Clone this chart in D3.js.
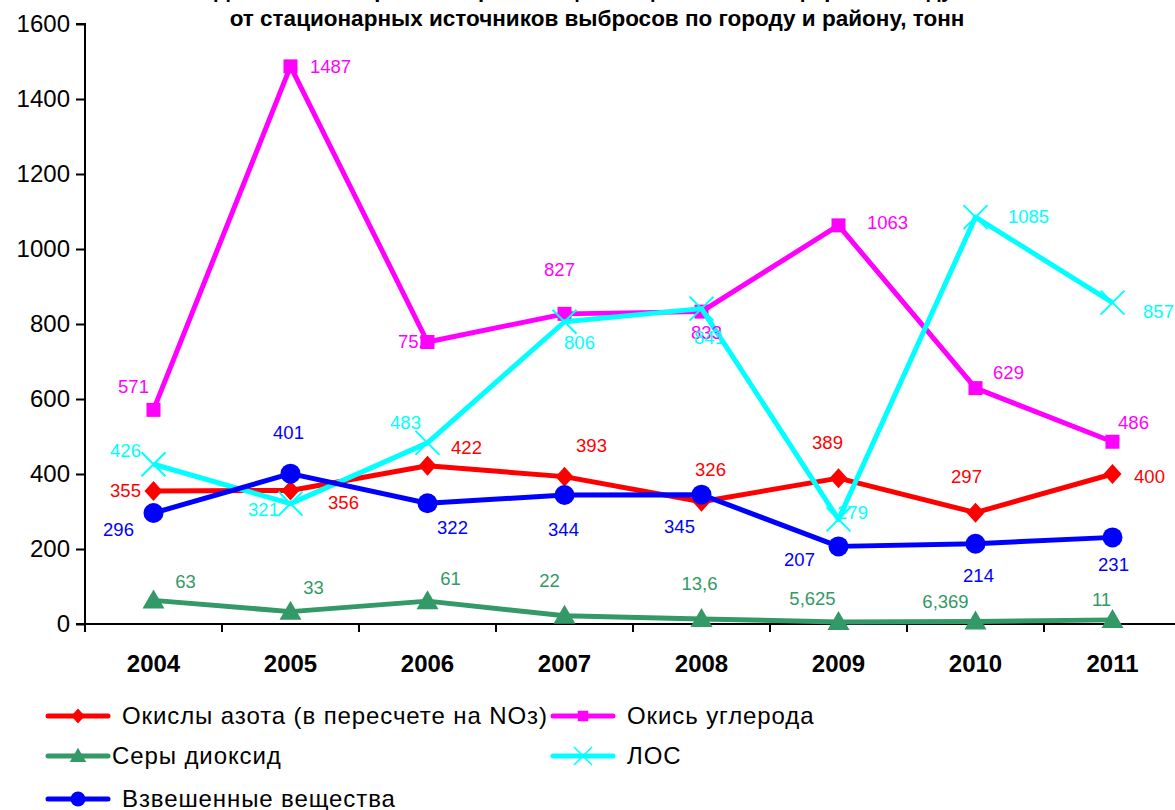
<!DOCTYPE html>
<html>
<head>
<meta charset="utf-8">
<script src="https://cdn.jsdelivr.net/npm/d3@7"></script>
<style>
  body { margin: 0; background: #fff; }
  text { font-family: "Liberation Sans", Arial, sans-serif; }
</style>
</head>
<body>
<div id="chart"></div>
<script>
// data
const years = ['2004', '2005', '2006', '2007', '2008', '2009', '2010', '2011']
const yTicks = [0, 200, 400, 600, 800, 1000, 1200, 1400, 1600]

const noxValues = [355, 356, 422, 393, 326, 389, 297, 400]
const coValues = [571, 1487, 752, 827, 833, 1063, 629, 486]
const so2Values = [63, 33, 61, 22, 13.6, 5.625, 6.369, 11]
const locValues = [426, 321, 483, 806, 841, 279, 1085, 857]
const dustValues = [296, 401, 322, 344, 345, 207, 214, 231]

const noxLabels = ['355', '356', '422', '393', '326', '389', '297', '400']
const coLabels = ['571', '1487', '752', '827', '833', '1063', '629', '486']
const so2Labels = ['63', '33', '61', '22', '13,6', '5,625', '6,369', '11']
const locLabels = ['426', '321', '483', '806', '841', '279', '1085', '857']
const dustLabels = ['296', '401', '322', '344', '345', '207', '214', '231']

// label placement (excel style manual offsets, px)
const noxOff = [[-28, 0], [53, 12], [39, -18], [27, -31], [9, -32], [-11, -36], [-9, -36], [37, 3]]
const coOff = [[-20, -23], [40, 0], [-14, 0], [-5, -44], [5, 21], [49, -3], [33, -16], [21, -19]]
const so2Off = [[32, -19], [23, -24], [23, -23], [-15, -35], [-2, -35], [-26, -23], [-30, -20], [-11, -20]]
const locOff = [[-28, -14], [-27, 6], [-22, -20], [15, 21], [8, 29], [14, -7], [53, -1], [46, 9]]
const dustOff = [[-35, 17], [-2, -41], [25, 24], [-1, 35], [-22, 32], [-39, 13], [3, 32], [1, 27]]

const series = [
  { name: 'Окислы азота (в пересчете на NOз)', values: noxValues, labels: noxLabels, off: noxOff, color: '#ff0000', marker: 'diamond' },
  { name: 'Окись углерода', values: coValues, labels: coLabels, off: coOff, color: '#ff00ff', marker: 'square' },
  { name: 'Серы диоксид', values: so2Values, labels: so2Labels, off: so2Off, color: '#339966', marker: 'triangle' },
  { name: 'ЛОС', values: locValues, labels: locLabels, off: locOff, color: '#00ffff', marker: 'cross' },
  { name: 'Взвешенные вещества', values: dustValues, labels: dustLabels, off: dustOff, color: '#0000ff', marker: 'circle' }
]

const width = 1175
const height = 810
const left = 85
const bandW = 137

const svg = d3.select('#chart').append('svg')
  .attr('width', width).attr('height', height)

const x = d3.scaleBand().domain(years).range([left, left + bandW * years.length])
const y = d3.scaleLinear().domain([0, 1600]).range([624, 24])

// title (first line is cut at the top of the picture)
svg.append('text')
  .attr('x', 590).attr('y', -3)
  .attr('text-anchor', 'middle')
  .style('font-size', '22px').style('font-weight', 'bold')
  .text('Динамика выбросов загрязняющих веществ в атмосферный воздух')
svg.append('text')
  .attr('x', 597).attr('y', 26)
  .attr('text-anchor', 'middle')
  .style('font-size', '22.5px').style('font-weight', 'bold')
  .text('от стационарных источников выбросов по городу и району, тонн')

// axes
const yAxis = svg.append('g').attr('transform', `translate(${left},0)`)
  .call(d3.axisLeft(y).tickValues(yTicks).tickSize(9).tickPadding(6).tickFormat(d3.format('d')))
yAxis.select('.domain').attr('stroke', '#000').attr('stroke-width', 2).attr('d', `M-9,${y(1600)}H0V${y(0)}`)
yAxis.selectAll('.tick line').attr('stroke-width', 2)
yAxis.selectAll('.tick text').style('font-size', '24px').attr('fill', '#000')

const xAxis = svg.append('g').attr('transform', `translate(0,${y(0)})`)
xAxis.append('line')
  .attr('x1', left - 9).attr('x2', width)
  .attr('stroke', '#000').attr('stroke-width', 2)
xAxis.selectAll('.xtick').data(years).enter().append('line')
  .attr('x1', d => x(d)).attr('x2', d => x(d))
  .attr('y1', 0).attr('y2', 8)
  .attr('stroke', '#000').attr('stroke-width', 2)
xAxis.selectAll('.xlab').data(years).enter().append('text')
  .attr('x', d => x(d) + x.bandwidth() / 2)
  .attr('y', 48)
  .attr('text-anchor', 'middle')
  .style('font-size', '24px').style('font-weight', 'bold')
  .text(d => d)

const line = d3.line()
  .x((d, i) => x(years[i]) + x.bandwidth() / 2)
  .y(d => y(d))

function drawMarker (g, type, color) {
  if (type === 'diamond') {
    g.append('path').attr('d', 'M0,-10L9,0L0,10L-9,0Z').attr('fill', color)
  } else if (type === 'square') {
    g.append('rect').attr('x', -7).attr('y', -7).attr('width', 14).attr('height', 14).attr('fill', color)
  } else if (type === 'triangle') {
    g.append('path').attr('d', 'M0,-11L11,8L-11,8Z').attr('fill', color)
  } else if (type === 'cross') {
    g.append('path').attr('d', 'M-12,-12L12,12M-12,12L12,-12').attr('stroke', color).attr('stroke-width', 2)
  } else if (type === 'circle') {
    g.append('circle').attr('r', 10).attr('fill', color)
  }
}

const plot = svg.append('g')
series.forEach(s => {
  plot.append('path')
    .datum(s.values)
    .attr('d', line)
    .attr('fill', 'none')
    .attr('stroke', s.color)
    .attr('stroke-width', 5)
    .attr('stroke-linejoin', 'round')
  s.values.forEach((v, i) => {
    const g = plot.append('g')
      .attr('transform', `translate(${x(years[i]) + x.bandwidth() / 2},${y(v)})`)
    drawMarker(g, s.marker, s.color)
  })
})

// data labels
series.forEach(s => {
  plot.selectAll(null).data(s.values).enter().append('text')
    .attr('x', (d, i) => x(years[i]) + x.bandwidth() / 2 + s.off[i][0])
    .attr('y', (d, i) => y(d) + s.off[i][1])
    .attr('dy', '0.35em')
    .attr('text-anchor', 'middle')
    .attr('fill', s.color)
    .style('font-size', '18.5px')
    .text((d, i) => s.labels[i])
})

// legend
const legendPos = [[48, 716, 122], [553, 716, 627], [48, 756, 112], [553, 756, 627], [48, 799, 122]]
series.forEach((s, i) => {
  const [lx, ly, tx] = legendPos[i]
  const g = svg.append('g')
  g.append('line')
    .attr('x1', lx).attr('x2', lx + 60).attr('y1', ly).attr('y2', ly)
    .attr('stroke', s.color).attr('stroke-width', 5).attr('stroke-linecap', 'round')
  const m = g.append('g').attr('transform', `translate(${lx + 30},${ly}) scale(0.75)`)
  drawMarker(m, s.marker, s.color)
  g.append('text')
    .attr('x', tx).attr('y', ly).attr('dy', '0.35em')
    .style('font-size', '24px').style('letter-spacing', '0.9px')
    .text(s.name)
})
</script>
</body>
</html>
